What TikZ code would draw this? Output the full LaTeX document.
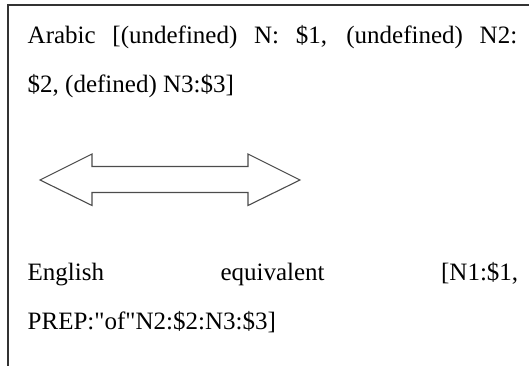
\documentclass[tikz,border=0pt]{standalone}
\usepackage{fontspec}
\newfontfamily\bodyfont{Liberation Serif}
\begin{document}
\begin{tikzpicture}[x=1pt,y=1pt,
  frameline/.style={draw=black!80,line width=1.3pt},
  arrowline/.style={draw=black!70,line width=1.1pt,line join=miter},
  txt/.style={anchor=base west,inner sep=0pt,font=\bodyfont\fontsize{25}{30}\selectfont}]
\useasboundingbox (0,0) rectangle (529,366);
% open frame: top rule and left rule only
\coordinate (tl) at (8,361);
\coordinate (tr) at (529,361);
\coordinate (bl) at (8,0);
\draw[frameline] (tr) -- (tl) -- (bl);
% Arabic pattern (first line spread to full width)
\node[txt] (ar1) at (27.5,322) {\makebox[489.5pt][s]{Arabic [(undefined) N: \$1, (undefined) N2:}};
\node[txt] (ar2) at (27.5,273) {\$2, (defined) N3:\$3]};
% double-headed outline arrow
\draw[arrowline] (40,186) -- (92,212) -- (92,199.5) -- (248,199.5) -- (248,212)
  -- (300,186) -- (248,160.5) -- (248,173.5) -- (92,173.5) -- (92,160.5) -- cycle;
% English equivalent (first line spread to full width)
\node[txt] (en1) at (27.5,85) {\makebox[490.5pt][s]{English equivalent [N1:\$1,}};
\node[txt] (en2) at (27.5,36) {PREP:"of"N2:\$2:N3:\$3]};
\end{tikzpicture}
\end{document}
